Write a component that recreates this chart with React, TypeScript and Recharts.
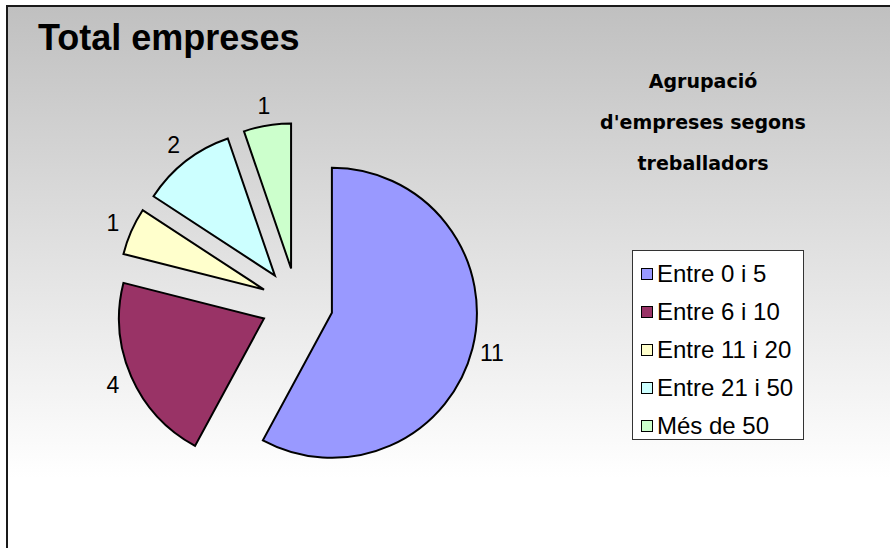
import React from 'react';
import { PieChart, Pie, Cell, Legend } from 'recharts';

const categories = ['Entre 0 i 5', 'Entre 6 i 10', 'Entre 11 i 20', 'Entre 21 i 50', 'Més de 50'];
const values = [11, 4, 1, 2, 1];
const colors = ['#9999ff', '#993366', '#ffffcc', '#ccffff', '#ccffcc'];
const title = 'Total empreses';
const subtitleLines = ['Agrupació', "d'empreses segons", 'treballadors'];

const data = categories.map((name, i) => ({ name, value: values[i] }));
const total = values.reduce((a, b) => a + b, 0);

const W = 890;
const H = 548;
const CX = 297;
const CY = 304;
const R = 145;
const EXPLODE = 36;

function explodeOffsets() {
  let cum = 0;
  return values.map((v) => {
    const mid = (cum + v / 2) / total;
    cum += v;
    const ang = ((90 - 360 * mid) * Math.PI) / 180;
    return { dx: EXPLODE * Math.cos(ang), dy: -EXPLODE * Math.sin(ang) };
  });
}

const LegendBox = () => {
  return (
    <div
      style={{
        width: 172,
        height: 190,
        boxSizing: 'border-box',
        border: '1px solid #333',
        background: '#ffffff',
        paddingTop: 4,
        paddingLeft: 8,
        fontFamily: 'Arial, "Liberation Sans", sans-serif',
        fontSize: 24,
        color: '#000',
      }}
    >
      {categories.map((name, idx) => (
        <div key={name} style={{ height: 38, display: 'flex', alignItems: 'center' }}>
          <span
            style={{
              display: 'inline-block',
              width: 12,
              height: 12,
              boxSizing: 'border-box',
              border: '1px solid #000',
              background: colors[idx],
              marginRight: 4,
            }}
          />
          <span style={{ whiteSpace: 'nowrap' }}>{name}</span>
        </div>
      ))}
    </div>
  );
};

export default function App() {
  const offsets = explodeOffsets();
  return (
    <div style={{ position: 'absolute', left: 0, top: 0, width: W, height: H, overflow: 'hidden', background: '#fff' }}>
      <div
        style={{
          position: 'absolute',
          left: 6,
          top: 5,
          width: W - 6,
          height: H - 5,
          boxSizing: 'border-box',
          borderTop: '2px solid #1a1a1a',
          borderLeft: '2px solid #1a1a1a',
          background: 'linear-gradient(to bottom, #c0c0c0 0%, #ffffff 87%, #ffffff 100%)',
        }}
      />
      <div style={{ position: 'absolute', left: 0, top: 0 }}>
        <PieChart width={W} height={H} margin={{ top: 0, right: 0, bottom: 0, left: 0 }}>
          {values.map((_, k) => (
            <Pie
              key={k}
              data={data}
              dataKey="value"
              nameKey="name"
              cx={CX + offsets[k].dx}
              cy={CY + offsets[k].dy}
              outerRadius={R}
              startAngle={90}
              endAngle={-270}
              isAnimationActive={false}
              labelLine={false}
              legendType={k === 0 ? 'square' : 'none'}
              label={(p: any) =>
                p.index === k ? (
                  <text
                    x={p.x}
                    y={p.y}
                    textAnchor="middle"
                    dominantBaseline="central"
                    fontFamily='Arial, "Liberation Sans", sans-serif'
                    fontSize={23}
                    fill="#000"
                  >
                    {p.value}
                  </text>
                ) : null
              }
            >
              {data.map((d, i) => (
                <Cell
                  key={d.name}
                  fill={i === k ? colors[i] : 'none'}
                  stroke={i === k ? '#000' : 'none'}
                  strokeWidth={2}
                />
              ))}
            </Pie>
          ))}
          <Legend
            layout="vertical"
            align="right"
            verticalAlign="middle"
            content={LegendBox}
            wrapperStyle={{ position: 'absolute', left: 632, top: 250, width: 172, height: 190 }}
          />
        </PieChart>
      </div>
      <svg width={W} height={H} style={{ position: 'absolute', left: 0, top: 0, pointerEvents: 'none' }}>
        <text x={38} y={50} fontFamily='Arial, "Liberation Sans", sans-serif' fontWeight="bold" fontSize={36} fill="#000">
          {title}
        </text>
        {subtitleLines.map((line, i) => (
          <text
            key={line}
            x={703}
            y={88 + i * 41}
            textAnchor="middle"
            fontFamily='"DejaVu Sans", sans-serif'
            fontWeight="bold"
            fontSize={19}
            fill="#000"
          >
            {line}
          </text>
        ))}
      </svg>
    </div>
  );
}
